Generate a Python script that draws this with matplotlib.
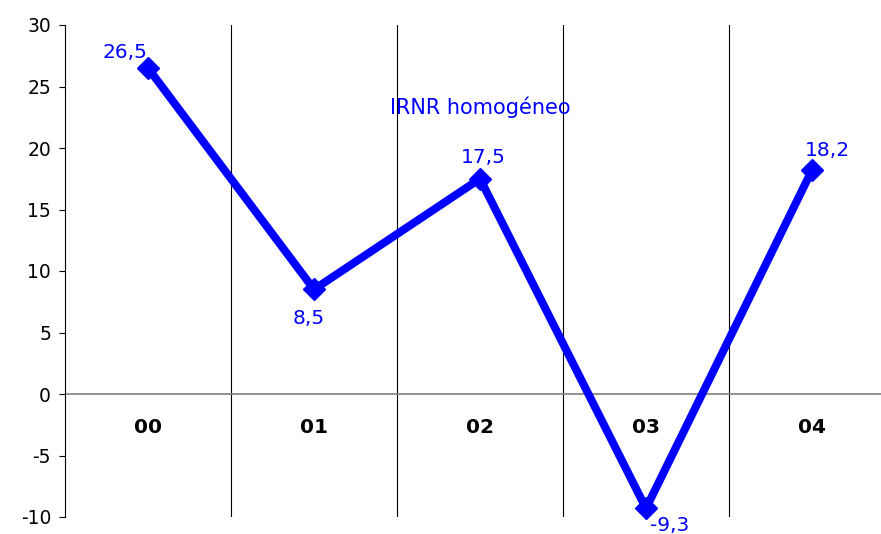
import numpy as np
import matplotlib.pyplot as plt

plt.rcParams['font.family'] = ['DejaVu Sans']
plt.rcParams['axes.unicode_minus'] = False

categorias = ['00', '01', '02', '03', '04']
valores = [26.5, 8.5, 17.5, -9.3, 18.2]
rotulos = ['26,5', '8,5', '17,5', '-9,3', '18,2']
# deslocamento de cada rótulo em pontos (dx, dy)
desloc = [(-16.5, 11), (-3.6, -21), (2, 15), (17, -12), (11, 14.5)]

fig = plt.figure(figsize=(8.81, 5.34), dpi=100)
ax = fig.add_axes([65/881, 17/534, 830/881, 492/534])

x = np.arange(len(categorias))
ax.plot(x, valores, color='#0000FF', lw=5.8, marker='D', ms=11, zorder=3, clip_on=False)

for xi, v, r, d in zip(x, valores, rotulos, desloc):
    ax.annotate(r, (xi, v), xytext=d, textcoords='offset points',
                ha='center', va='center', color='#0000FF', fontsize=14.5)

# linhas verticais separando as categorias
for b in np.arange(0.5, len(categorias), 1):
    ax.axvline(b, color='black', lw=0.8, zorder=1)
ax.axhline(0, color='#808080', lw=1.2, zorder=1)

for xi, c in zip(x, categorias):
    ax.text(xi, -2.7, c, ha='center', va='center', fontsize=14.5, fontweight='bold')

ax.text(2, 23.3, 'IRNR homogéneo', ha='center', va='center', color='#0000FF', fontsize=15)
fig.text(418/881, 1 + 4/534, 'homogéneo', ha='center', va='baseline', fontsize=15, fontweight='bold')

ax.set_xlim(-0.5, 4.5)
ax.set_ylim(-10, 30)
ax.set_yticks(range(-10, 31, 5))
ax.set_xticks([])
for s in ['top', 'right', 'bottom']:
    ax.spines[s].set_visible(False)
ax.spines['left'].set_color('black')
ax.tick_params(axis='y', labelsize=13.5, length=4, width=0.8, pad=6)

plt.savefig('out.png', dpi=100)
